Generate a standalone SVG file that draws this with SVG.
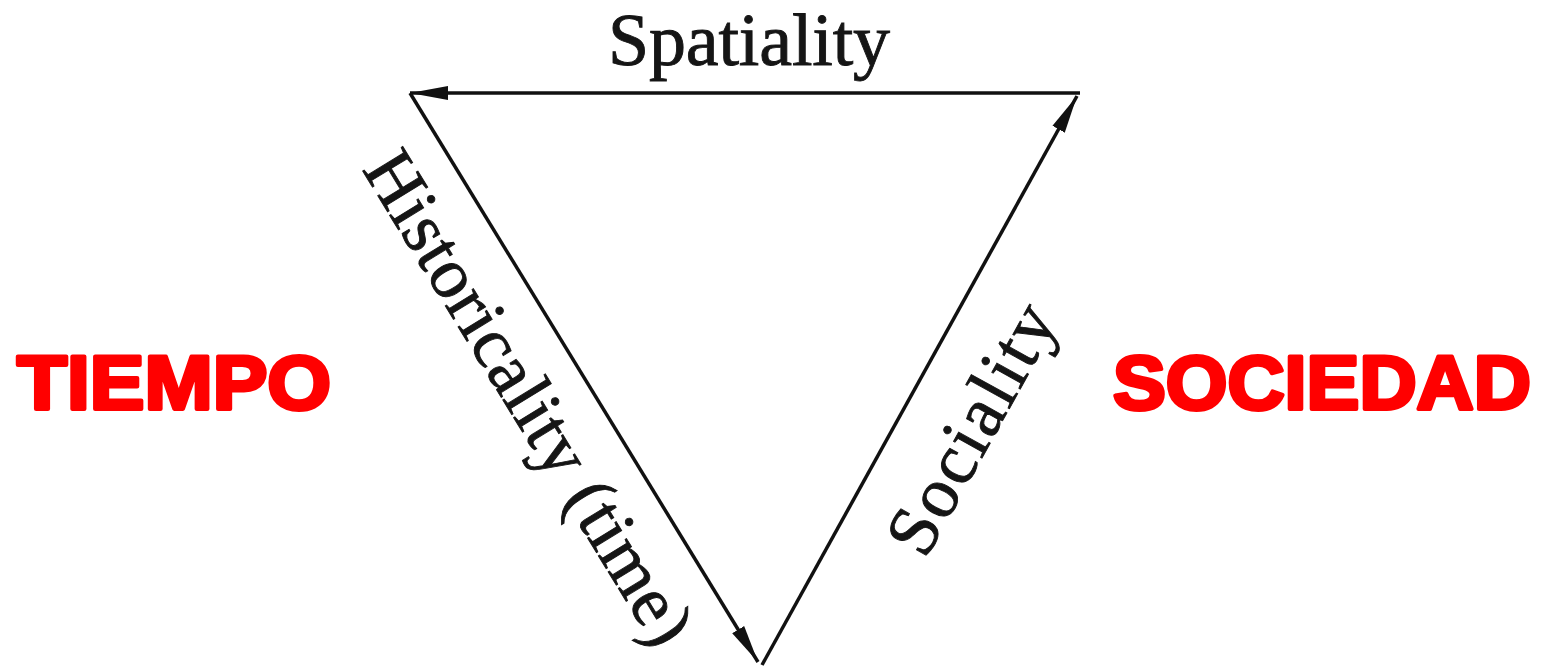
<svg xmlns="http://www.w3.org/2000/svg" width="1545" height="671" viewBox="0 0 1545 671">
<style>
.lbl{font-family:"Liberation Serif","Times New Roman",serif;fill:#151515;stroke:#151515;stroke-width:0.9;}
.big{font-family:"Liberation Sans",Arial,sans-serif;font-weight:bold;fill:#ff0000;stroke:#ff0000;stroke-width:4;stroke-linejoin:round;}
.edge{stroke:#111;stroke-width:3.5;fill:none;}
</style>
<defs>
<marker id="ah" markerUnits="userSpaceOnUse" markerWidth="40" markerHeight="18" refX="38" refY="9" orient="auto">
<path d="M0,2 L38,9 L0,16 Z" fill="#111"/>
</marker>
</defs>
<rect width="1545" height="671" fill="#fff"/>
<g id="connectors">
<line class="edge" x1="1080" y1="93" x2="410" y2="93" marker-end="url(#ah)"/>
<line class="edge" x1="410" y1="93" x2="758" y2="662" marker-end="url(#ah)"/>
<line class="edge" x1="762" y1="665" x2="1077" y2="96" marker-end="url(#ah)"/>
</g>
<g id="spatiality"><text class="lbl" x="608" y="65" font-size="74" textLength="282" lengthAdjust="spacing">Spatiality</text></g>
<g id="historicality"><text class="lbl" font-size="72" text-anchor="middle" textLength="565" lengthAdjust="spacing" transform="translate(509,410) rotate(58.5)">Historicality (time)</text></g>
<g id="sociality"><text class="lbl" font-size="72" text-anchor="middle" textLength="275" lengthAdjust="spacing" transform="translate(992,440) rotate(-61)">Sociality</text></g>
<g id="tiempo"><text class="big" x="17" y="409" font-size="76" textLength="314" lengthAdjust="spacingAndGlyphs">TIEMPO</text></g>
<g id="sociedad"><text class="big" x="1113" y="409" font-size="76" textLength="418" lengthAdjust="spacingAndGlyphs">SOCIEDAD</text></g>
</svg>
